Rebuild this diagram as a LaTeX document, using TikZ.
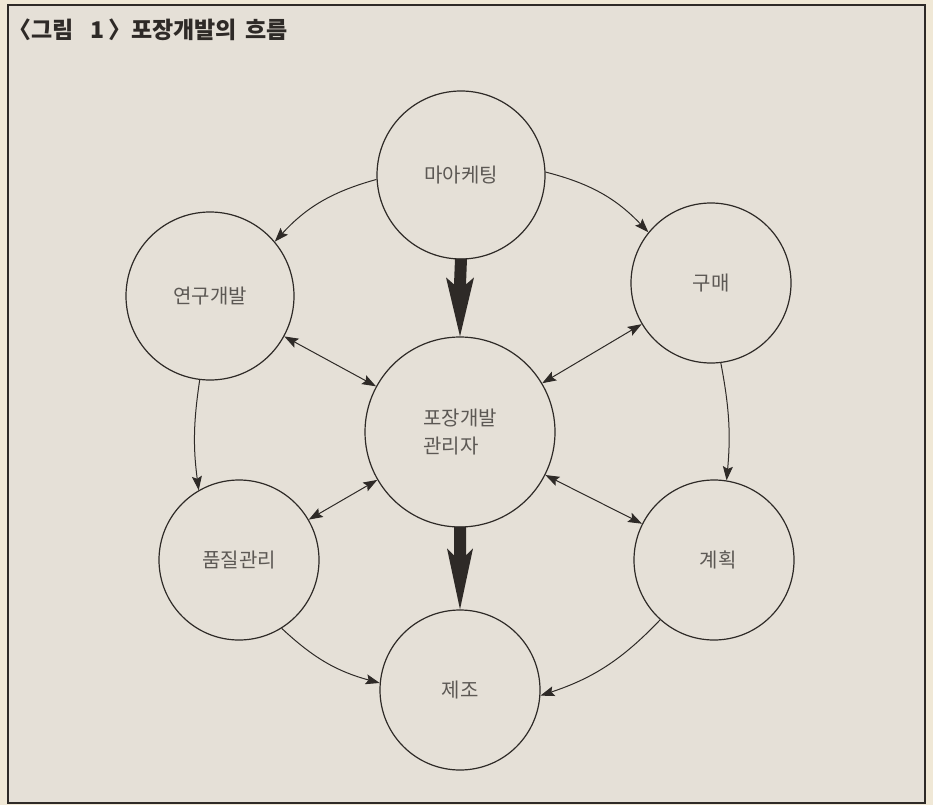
\documentclass[tikz,border=0pt]{standalone}
\usepackage{fontspec}
\setmainfont{Noto Sans CJK KR}
\usetikzlibrary{arrows.meta,calc}
\definecolor{paper}{HTML}{E5E0D7}
\definecolor{outer}{HTML}{F0E8D6}
\definecolor{ink}{HTML}{2E2A27}
\definecolor{lbl}{HTML}{5C5854}
\begin{document}
\begin{tikzpicture}[x=1pt,y=1pt,
  bub/.style={circle, draw=ink, line width=1.2pt, inner sep=0pt, text=lbl,
              font=\fontsize{20}{28}\selectfont, align=left},
  thinarrow/.style={draw=ink, line width=1pt, -{Stealth[length=14pt,width=10pt,inset=2.5pt]}},
  twoway/.style={draw=ink, line width=1pt, {Stealth[length=14pt,width=10pt,inset=2.5pt]}-{Stealth[length=14pt,width=10pt,inset=2.5pt]}},
  fatarrow/.style={fill=ink}
]
\useasboundingbox (0,0) rectangle (933,-805);
\fill[outer] (0,0) rectangle (933,-805);
\draw[ink, line width=1.5pt, fill=paper] (8,-5) rectangle (925,-803);

\node[anchor=west, text=ink, font=\fontsize{23}{25}\selectfont\bfseries, inner sep=0pt] (title) at (8,-30) {〈그림\hspace{0.75em}1\hspace{0.15em}〉포장개발의\hspace{0.15em} 흐름};

\node[bub, minimum size=168pt] (M)  at (461,-175) {마아케팅};
\node[bub, minimum size=168pt] (R)  at (210,-296) {연구개발};
\node[bub, minimum size=160pt] (P)  at (711,-283) {구매};
\node[bub, minimum size=190pt] (C)  at (460,-432) {포장개발\\관리자};
\node[bub, minimum size=160pt] (Q)  at (239,-560) {품질관리};
\node[bub, minimum size=160pt] (PL) at (714,-560) {\hspace{0.4em}계획};
\node[bub, minimum size=160pt] (MF) at (460,-690) {제조};

% outer ring flows
\draw[thinarrow] (M.183) to[bend right=16] (R.40);
\draw[thinarrow] (M.2) to[bend left=16] (P.141);
\draw[thinarrow] (R.263) to[bend right=8] (Q.120);
\draw[thinarrow] (P.277) to[bend left=8] (PL.81);
\draw[thinarrow] (Q.302) to[bend right=14] (MF.175);
\draw[thinarrow] (PL.228) to[bend left=14] (MF.356);

% two-way links with the manager
\draw[twoway] (R) -- (C);
\draw[twoway] (P) -- (C);
\draw[twoway] (Q) -- (C);
\draw[twoway] (PL) -- (C);

% heavy arrows
\fill[fatarrow] let \p1=(M.south), \p2=(C.north) in
  (\x1-6pt,\y1+1pt) -- (\x1+6pt,\y1+1pt) -- (\x2+6pt,\y2+52pt) -- (\x2+14pt,\y2+59pt)
  -- (\x2,\y2) -- (\x2-14pt,\y2+59pt) -- (\x2-6pt,\y2+52pt) -- cycle;
\fill[fatarrow] let \p1=(C.south), \p2=(MF.north) in
  (\x1-6pt,\y1+1pt) -- (\x1+6pt,\y1+1pt) -- (\x2+6pt,\y2+54pt) -- (\x2+13pt,\y2+61pt)
  -- (\x2,\y2) -- (\x2-13pt,\y2+61pt) -- (\x2-6pt,\y2+54pt) -- cycle;
\end{tikzpicture}
\end{document}
